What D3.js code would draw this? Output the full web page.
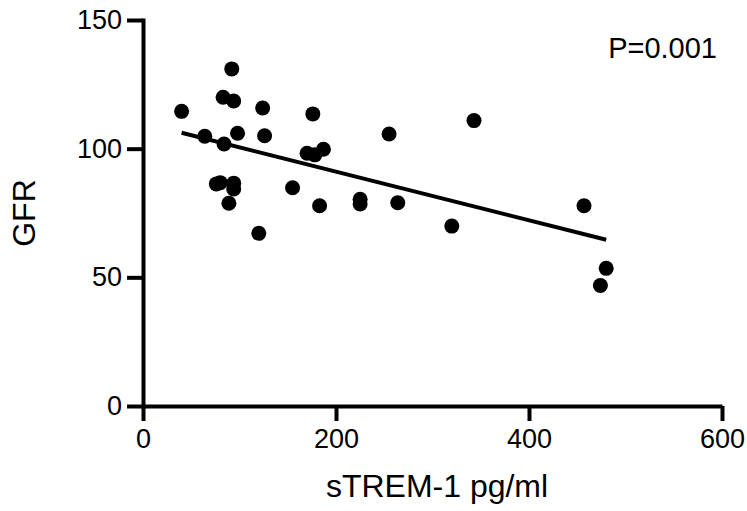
<!DOCTYPE html>
<html>
<head>
<meta charset="utf-8">
<script src="https://cdn.jsdelivr.net/npm/d3@7"></script>
<style>
  body { margin: 0; background: #fff; }
  svg text { font-family: "Liberation Sans", Arial, sans-serif; fill: #000; }
</style>
</head>
<body>
<svg id="chart" width="747" height="511"></svg>
<script>
"use strict";

// sTREM-1 (pg/ml) vs GFR
var stremValues = [40, 92, 83, 94, 124, 176, 64, 84, 98, 126, 170, 178, 187, 76, 80, 94, 94, 89,
                   155, 183, 225, 225, 120, 255, 343, 264, 320, 457, 480, 474];
var gfrValues = [114.5, 131, 120, 118.5, 115.8, 113.5, 104.8, 101.8, 106, 105, 98.2, 97.6, 99.8, 86.3, 86.8, 86.6, 84.3, 78.8,
                 84.8, 77.8, 80.3, 78.5, 67.1, 105.7, 110.9, 79, 69.9, 77.8, 53.5, 46.8];
var fitX = [40, 480];
var fitY = [106.2, 64.6];
var xTicks = [0, 200, 400, 600];
var yTicks = [0, 50, 100, 150];

var svg = d3.select("#chart");

var x = d3.scaleLinear().domain([0, 600]).range([143, 722]);
var y = d3.scaleLinear().domain([0, 150]).range([406, 20]);

var xAxis = d3.axisBottom(x).tickValues(xTicks).tickSize(15).tickSizeOuter(0).tickPadding(8);
var yAxis = d3.axisLeft(y).tickValues(yTicks).tickSize(16).tickSizeOuter(0).tickPadding(5);

var gx = svg.append("g").attr("transform", "translate(0,406)").call(xAxis);
var gy = svg.append("g").attr("transform", "translate(143,0)").call(yAxis);

[gx, gy].forEach(function (g) {
  g.selectAll("path, line").attr("stroke", "#000").attr("stroke-width", 4);
  g.selectAll("text").attr("font-size", 27).attr("font-family", "Liberation Sans, Arial, sans-serif");
});
gy.select(".domain").attr("stroke-linecap", "square");

svg.append("text")
  .attr("x", 437).attr("y", 497)
  .attr("text-anchor", "middle")
  .attr("font-size", 32)
  .text("sTREM-1 pg/ml");

svg.append("text")
  .attr("transform", "translate(35,213) rotate(-90)")
  .attr("text-anchor", "middle")
  .attr("font-size", 32)
  .text("GFR");

svg.append("text")
  .attr("x", 717).attr("y", 58)
  .attr("text-anchor", "end")
  .attr("font-size", 29)
  .text("P=0.001");

svg.append("line")
  .attr("x1", x(fitX[0])).attr("y1", y(fitY[0]))
  .attr("x2", x(fitX[1])).attr("y2", y(fitY[1]))
  .attr("stroke", "#000")
  .attr("stroke-width", 4);

svg.selectAll("circle")
  .data(stremValues)
  .enter()
  .append("circle")
  .attr("cx", function (d) { return x(d); })
  .attr("cy", function (d, i) { return y(gfrValues[i]); })
  .attr("r", 7.5)
  .attr("fill", "#000");
</script>
</body>
</html>
